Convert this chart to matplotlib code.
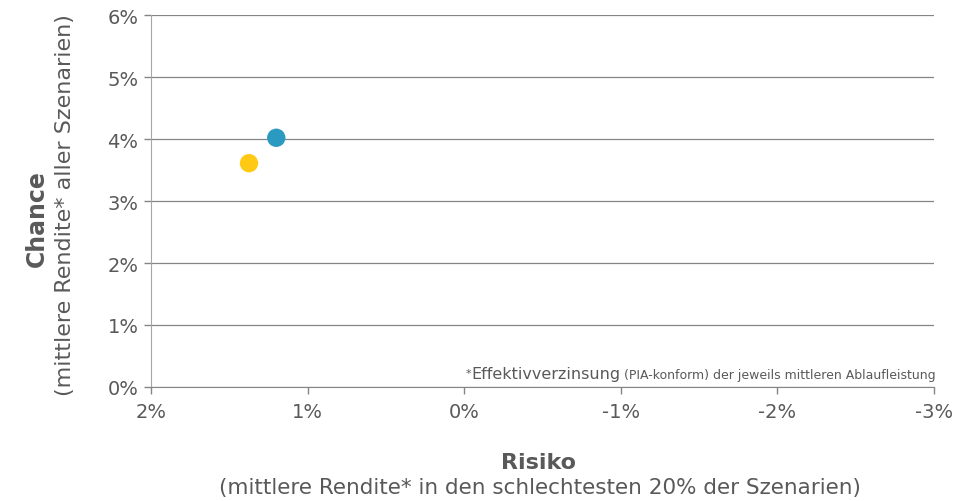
import matplotlib
matplotlib.use("Agg")
import matplotlib.pyplot as plt
from matplotlib.ticker import FuncFormatter

# data (values in %)
risk = [1.374, 1.20]
chance = [3.61, 4.02]
colors = ["#ffc914", "#2a9ac0"]

x_ticks = [2, 1, 0, -1, -2, -3]
y_ticks = [0, 1, 2, 3, 4, 5, 6]

text_grey = "#595959"
line_grey = "#858585"

plt.rcParams['font.family'] = ['DejaVu Sans']

fig = plt.figure(figsize=(9.69, 5.02), dpi=100)
ax = fig.add_axes([0.1558, 0.2271, 0.9639 - 0.1558, 0.9681 - 0.2271])

ax.scatter(risk, chance, s=175, c=colors, zorder=3, linewidths=0)

ax.set_xlim(2, -3)
ax.set_ylim(0, 6)
ax.set_xticks(x_ticks)
ax.set_yticks(y_ticks)
ax.xaxis.set_major_formatter(FuncFormatter(lambda v, p: f"{v:.0f}%"))
ax.yaxis.set_major_formatter(FuncFormatter(lambda v, p: f"{v:.0f}%"))

ax.grid(axis="y", color=line_grey, linewidth=0.9)
ax.set_axisbelow(True)
for side in ["top", "right"]:
    ax.spines[side].set_visible(False)
ax.spines["left"].set_color("#a6a6a6")
ax.spines["bottom"].set_color(line_grey)

ax.tick_params(axis="both", colors=line_grey, labelcolor=text_grey, labelsize=14,
               length=5, direction="out", width=1.0)
ax.tick_params(axis="y", pad=4)
ax.tick_params(axis="x", pad=6)

# axis titles (bold first line, normal second line)
fig.text(0.038, 1 - 219 / 502, "Chance", rotation=90, fontsize=17, fontweight="bold",
         color=text_grey, ha="center", va="center")
fig.text(0.067, 1 - 205 / 502, "(mittlere Rendite* aller Szenarien)", rotation=90, fontsize=16,
         color=text_grey, ha="center", va="center")
fig.text(0.556, 1 - 463 / 502, "Risiko", fontsize=16, fontweight="bold",
         color=text_grey, ha="center", va="center")
fig.text(0.557, 1 - 488 / 502, "(mittlere Rendite* in den schlechtesten 20% der Szenarien)",
         fontsize=15.5, color=text_grey, ha="center", va="center")

# footnote assembled from pieces of different sizes
fig.canvas.draw()
renderer = fig.canvas.get_renderer()
base_y = 1 - 379 / 502
x_right = 936 / 969
t3 = fig.text(x_right, base_y, "(PIA-konform) der jeweils mittleren Ablaufleistung",
              fontsize=9, color=text_grey, ha="right", va="baseline")
bb = t3.get_window_extent(renderer)
t2 = fig.text(bb.x0 / fig.bbox.width - 0.004, base_y, "Effektivverzinsung",
              fontsize=11.5, color=text_grey, ha="right", va="baseline")
bb2 = t2.get_window_extent(renderer)
fig.text(bb2.x0 / fig.bbox.width, base_y + 0.004, "*", fontsize=8, color=text_grey,
         ha="right", va="baseline")

fig.savefig("out.png", dpi=100)
